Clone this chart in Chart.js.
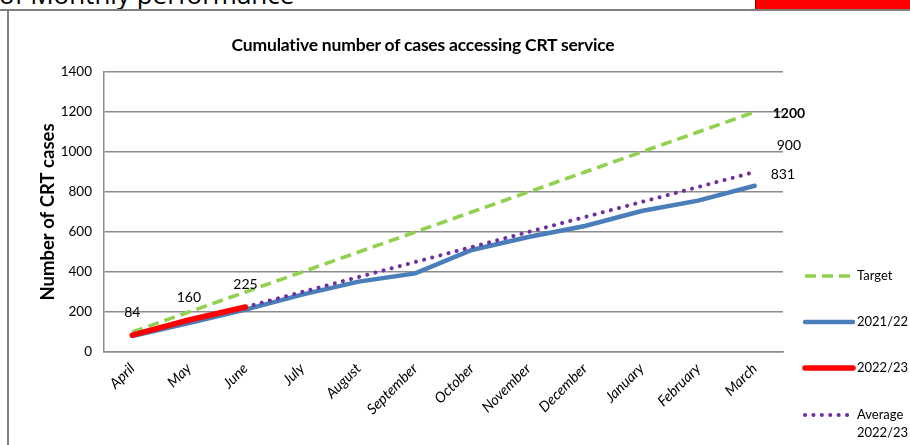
<!DOCTYPE html>
<html>
<head>
<meta charset="utf-8">
<script src="https://cdn.jsdelivr.net/npm/chart.js@4.4.0/dist/chart.umd.min.js"></script>
<style>
  html, body { margin: 0; padding: 0; background: #fff; }
  body { width: 910px; height: 445px; position: relative; overflow: hidden; font-family: Lato, "Open Sans", sans-serif; }
  #topbox { position: absolute; left: -2px; top: -2px; width: 756px; height: 10px; border: 1px solid #555; background: #fff; overflow: hidden; }
  #toptext { position: absolute; left: 0; top: -17px; font-size: 26px; line-height: 25px; color: #000; white-space: nowrap; font-family: "Open Sans", Lato, sans-serif; }
  #redbox { position: absolute; left: 755px; top: -2px; width: 160px; height: 10px; background: #ff0000; border: 1px solid #8b0000; }
  #hline { position: absolute; left: 0; top: 9px; width: 910px; height: 2px; background: #7f7f7f; }
  #vline { position: absolute; left: 7px; top: 11px; width: 2px; height: 440px; background: #7f7f7f; }
  #title { position: absolute; left: 0; width: 846px; top: 34px; text-align: center; font-weight: bold; font-size: 17.5px; color: #000; letter-spacing: -0.2px; }
  #c { position: absolute; left: 0; top: 0; }
</style>
</head>
<body>
<div id="topbox"><div id="toptext">of Monthly performance</div></div>
<div id="redbox"></div>
<div id="hline"></div>
<div id="vline"></div>
<canvas id="c" width="910" height="445"></canvas>
<div id="title">Cumulative number of cases accessing CRT service</div>
<script>
const months = ["April","May","June","July","August","September","October","November","December","January","February","March"];
const target = [100,200,300,400,500,600,700,800,900,1000,1100,1200];
const y2021_22 = [80,145,212,287,352,393,510,575,630,705,757,831];
const y2022_23 = [84,160,225,null,null,null,null,null,null,null,null,null];
const average2022_23 = [null,null,225,300,375,450,525,600,675,750,825,900];
const yTicks = [0,200,400,600,800,1000,1200,1400];

const labelPlugin = {
  id: 'valueLabels',
  afterDatasetsDraw(chart) {
    const ctx = chart.ctx;
    const specs = chart.options.plugins.valueLabels.specs;
    ctx.save();
    ctx.fillStyle = '#000';
    ctx.textBaseline = 'middle';
    specs.forEach(s => {
      const meta = chart.getDatasetMeta(s.dataset);
      const data = chart.data.datasets[s.dataset].data;
      meta.data.forEach((pt, i) => {
        if (data[i] === null) return;
        if (s.which === 'last' && i !== data.length - 1) return;
        ctx.font = (s.bold ? 'bold ' : '') + '14px Lato, sans-serif';
        ctx.textAlign = s.align;
        ctx.fillText(String(data[i]), pt.x + s.dx, pt.y + s.dy);
      });
    });
    ctx.restore();
  }
};

const legendPlugin = {
  id: 'sideLegend',
  afterDraw(chart) {
    const ctx = chart.ctx;
    const o = chart.options.plugins.sideLegend;
    ctx.save();
    o.items.forEach(it => {
      const ds = chart.data.datasets[it.dataset];
      ctx.beginPath();
      ctx.strokeStyle = ds.borderColor;
      ctx.lineWidth = ds.borderWidth;
      ctx.setLineDash(ds.borderDash || []);
      ctx.lineCap = ds.borderCapStyle || 'butt';
      ctx.moveTo(o.x0, it.y);
      ctx.lineTo(o.x1, it.y);
      ctx.stroke();
      ctx.setLineDash([]);
      ctx.fillStyle = '#000';
      ctx.font = '13px Lato, sans-serif';
      ctx.textAlign = 'left';
      ctx.textBaseline = 'middle';
      const words = it.wrap ? ds.label.split(' ') : [ds.label];
      words.forEach((w, k) => ctx.fillText(w, o.x1 + 4, it.y + k * 18));
    });
    ctx.restore();
  }
};

new Chart(document.getElementById('c'), {
  type: 'line',
  data: {
    labels: months,
    datasets: [
      { label: 'Target', data: target, borderColor: '#92d050', borderWidth: 3.6, borderDash: [11, 6], pointRadius: 0, order: 4, tension: 0 },
      { label: '2021/22', data: y2021_22, borderColor: '#4a7ebb', borderWidth: 4.5, pointRadius: 0, order: 3, tension: 0, borderCapStyle: 'round' },
      { label: '2022/23', data: y2022_23, borderColor: '#ff0000', borderWidth: 5.5, pointRadius: 0, order: 1, tension: 0, spanGaps: false, borderCapStyle: 'round' },
      { label: 'Average 2022/23', data: average2022_23, borderColor: '#7030a0', borderWidth: 4, borderDash: [0.1, 8.3], borderCapStyle: 'round', pointRadius: 0, order: 2, tension: 0 }
    ]
  },
  options: {
    responsive: false,
    animation: false,
    devicePixelRatio: 1,
    layout: { padding: { top: 72, right: 127, left: 0, bottom: 0 } },
    plugins: {
      legend: { display: false },
      title: { display: false },
      tooltip: { enabled: false },
      valueLabels: {
        specs: [
          { dataset: 2, which: 'all', dx: 0, dy: -23, align: 'center' },
          { dataset: 0, which: 'last', dx: 18, dy: 1, align: 'left', bold: true },
          { dataset: 3, which: 'last', dx: 22, dy: -27, align: 'left' },
          { dataset: 1, which: 'last', dx: 16, dy: -11, align: 'left' }
        ]
      },
      sideLegend: {
        x0: 805, x1: 853,
        items: [ { dataset: 0, y: 276 }, { dataset: 1, y: 322 }, { dataset: 2, y: 368 }, { dataset: 3, y: 415, wrap: true } ]
      }
    },
    scales: {
      x: {
        offset: true,
        grid: { display: false, drawTicks: false },
        border: { display: true, color: '#8c8c8c', width: 1.5 },
        ticks: { maxRotation: 45, minRotation: 45, padding: 8, color: '#000', font: { family: 'Lato, sans-serif', size: 14.5, style: 'italic' }, autoSkip: false },
        afterFit(scale) { scale.height = 93; }
      },
      y: {
        min: 0, max: 1400,
        afterBuildTicks(scale) { scale.ticks = yTicks.map(v => ({ value: v })); },
        grid: { color: '#8c8c8c', lineWidth: 1.5, drawTicks: false },
        border: { display: true, color: '#8c8c8c', width: 1.5 },
        ticks: { padding: 12, color: '#000', font: { family: 'Lato, sans-serif', size: 13.5 }, callback: v => String(v) },
        title: { display: true, text: 'Number of CRT cases', color: '#000', font: { family: 'Lato, sans-serif', size: 18.5, weight: 'bold' }, padding: { top: 37, bottom: 0 } },
        afterFit(scale) { scale.width = 104; }
      }
    }
  },
  plugins: [labelPlugin, legendPlugin]
});
</script>
</body>
</html>
